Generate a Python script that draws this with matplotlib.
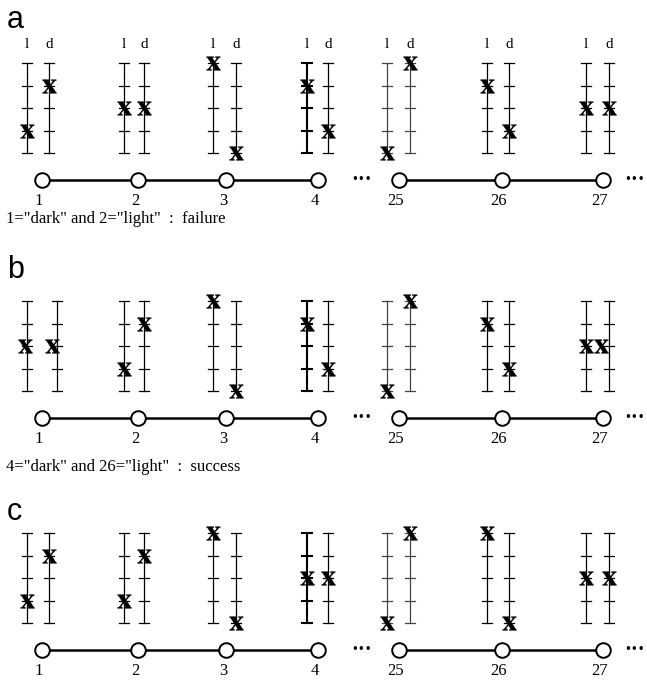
import numpy as np
import matplotlib.pyplot as plt

plt.rcParams['mathtext.fontset'] = 'stix'

# data
nodes = ['1', '2', '3', '4', '25', '26', '27']
panels = ['a', 'b', 'c']
light_a = [1, 2, 4, 3, 0, 3, 2]
dark_a = [3, 2, 0, 1, 4, 1, 2]
light_b = [2, 1, 4, 3, 0, 3, 2]
dark_b = [2, 3, 0, 1, 4, 1, 2]
light_c = [1, 1, 4, 2, 0, 4, 2]
dark_c = [3, 3, 0, 2, 4, 0, 2]
captions = ['1="dark" and 2="light"  :  failure',
            '4="dark" and 26="light"  :  success',
            None]
chains = [(0, 3), (4, 6)]

# layout (pixels)
node_x = [42, 138, 226, 318, 399, 502, 603]
l_x = [27, 124, 213, 307, 387, 487, 586]
d_x = [49, 144, 236, 328, 410, 509, 609]
circle_y = [180, 418, 650]
letter_y = [20, 270, 512]
caption_y = [219, 467, None]
dots_x = [362, 635]
step = 22.5
gap = 27
tick = 5
nudge = {(1, 0, 'd'): 8, (1, 0, 'x_d'): -5, (1, 0, 'x_l'): -2, (1, 6, 'x_d'): -8}

fig = plt.figure(figsize=(6.47, 6.81), dpi=100)
ax = fig.add_axes([0, 0, 1, 1])
ax.set_xlim(0, 647)
ax.set_ylim(681, 0)
ax.axis('off')

serif = 'Liberation Serif'
values = [(light_a, dark_a), (light_b, dark_b), (light_c, dark_c)]

for p in range(3):
	cy = circle_y[p]
	base = cy - gap
	lights, darks = values[p]
	ax.text(7, letter_y[p], panels[p], fontsize=22, family='Liberation Sans', va='center', ha='left')
	for i in range(len(nodes)):
		for side, xs, vals in [('l', l_x, lights), ('d', d_x, darks)]:
			x = xs[i] + nudge.get((p, i, side), 0)
			lw = 1.5 if (side == 'l' and nodes[i] == '4') else 0.9
			col = '#444444' if nodes[i] == '25' else 'black'
			ax.plot([x, x], [base, base - 4 * step], color=col, lw=lw, zorder=1)
			for k in range(5):
				yk = base - k * step
				ax.plot([x - tick, x + tick], [yk, yk], color=col, lw=lw, zorder=1)
			xm = x + nudge.get((p, i, 'x_' + side), 0)
			ax.plot(xm, base - vals[i] * step, marker=r'$\mathbf{x}$', mfc='black', mec='black',
				mew=0.3, markersize=10, lw=0, zorder=5)
			if p == 0:
				ax.text(xs[i], 44, side, fontsize=11, family=serif, ha='center', va='center')
	for a, b in chains:
		ax.plot([node_x[a], node_x[b]], [cy, cy], color='black', lw=1.8, zorder=2)
	ax.plot(node_x, [cy] * len(nodes), 'o', ms=10.5, mfc='white', mec='black', mew=1.4, zorder=3)
	for i in range(len(nodes)):
		ax.text(node_x[i] - 3, cy + 21, nodes[i], fontsize=12, family=serif, ha='center', va='center')
	for dx in dots_x:
		ax.text(dx, cy, '•••', fontsize=8.5, family='DejaVu Sans', ha='center', va='center')
	if captions[p]:
		ax.text(6, caption_y[p], captions[p], fontsize=12, family=serif, ha='left', va='center')

fig.savefig('out.png', dpi=100)
